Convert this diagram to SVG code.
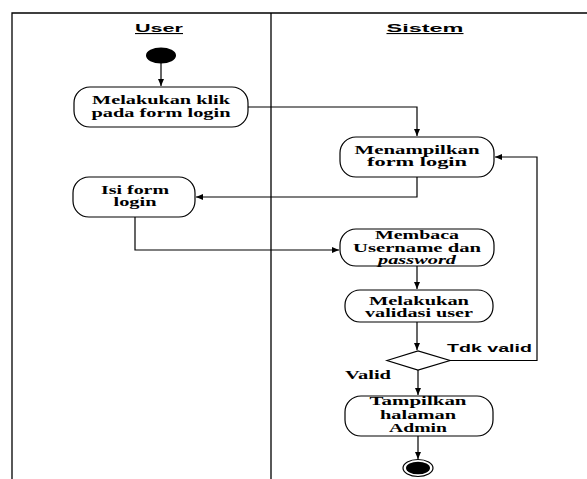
<svg xmlns="http://www.w3.org/2000/svg" width="587" height="479" viewBox="0 0 587 479">
<defs>
<style>
.lane{stroke:#000;stroke-width:1.3;fill:none}
.node{fill:#fff;stroke:#000;stroke-width:1.2}
.t{font-family:"Liberation Serif","Times New Roman",serif;font-weight:bold;font-size:12.5px;fill:#000;text-anchor:middle}
.ti{font-style:italic}
.h{font-family:"Liberation Sans",Arial,sans-serif;font-weight:bold;font-size:11px;fill:#000;text-anchor:middle;text-decoration:underline}
.lbl{font-family:"Liberation Sans",Arial,sans-serif;font-weight:bold;font-size:11.5px;fill:#000}
.lbls{font-family:"Liberation Serif","Times New Roman",serif;font-weight:bold;font-size:12px;fill:#000}
.c{fill:none;stroke:#000;stroke-width:1.2}
</style>
<marker id="ah" markerWidth="8" markerHeight="6" refX="7" refY="3" orient="auto" markerUnits="userSpaceOnUse">
<path d="M0,0 L7,3 L0,6 Z" fill="#000"/>
</marker>
</defs>
<rect width="587" height="479" fill="#fff"/>
<g id="lanes">
<path class="lane" d="M12,479 V13 H587 M271,13 V479"/>
<text class="h" x="159" y="32" textLength="48" lengthAdjust="spacingAndGlyphs">User</text>
<text class="h" x="425" y="32" textLength="77" lengthAdjust="spacingAndGlyphs">Sistem</text>
</g>
<g id="connectors">
<path class="c" d="M161,63 V86" marker-end="url(#ah)"/>
<path class="c" d="M248,107 H417 V136" marker-end="url(#ah)"/>
<path class="c" d="M417,177 V197 H196" marker-end="url(#ah)"/>
<path class="c" d="M135,217 V250 H339" marker-end="url(#ah)"/>
<path class="c" d="M417,266 V289" marker-end="url(#ah)"/>
<path class="c" d="M417,322 V350" marker-end="url(#ah)"/>
<path class="c" d="M450,360.5 H537 V157 H495" marker-end="url(#ah)"/>
<path class="c" d="M418,370 V395" marker-end="url(#ah)"/>
<path class="c" d="M418,436 V459" marker-end="url(#ah)"/>
<text class="lbl" x="447" y="352" textLength="85" lengthAdjust="spacingAndGlyphs">Tdk valid</text>
<text class="lbls" x="345" y="379" textLength="46" lengthAdjust="spacingAndGlyphs">Valid</text>
</g>
<g id="start">
<ellipse cx="161" cy="55.5" rx="15" ry="8" fill="#000"/>
</g>
<g id="n1">
<rect class="node" x="74" y="87" width="174" height="40" rx="16"/>
<text class="t" x="161" y="104" textLength="138" lengthAdjust="spacingAndGlyphs">Melakukan klik</text>
<text class="t" x="161" y="117" textLength="139" lengthAdjust="spacingAndGlyphs">pada form login</text>
</g>
<g id="n2">
<rect class="node" x="340" y="137" width="154" height="40" rx="16"/>
<text class="t" x="417" y="154" textLength="125" lengthAdjust="spacingAndGlyphs">Menampilkan</text>
<text class="t" x="417" y="166" textLength="100" lengthAdjust="spacingAndGlyphs">form login</text>
</g>
<g id="n3">
<rect class="node" x="73" y="177" width="122" height="40" rx="16"/>
<text class="t" x="135" y="194" textLength="68" lengthAdjust="spacingAndGlyphs">Isi form</text>
<text class="t" x="135" y="206" textLength="43" lengthAdjust="spacingAndGlyphs">login</text>
</g>
<g id="n4">
<rect class="node" x="340" y="229" width="154" height="37" rx="16"/>
<text class="t" x="417" y="239" textLength="84" lengthAdjust="spacingAndGlyphs">Membaca</text>
<text class="t" x="417" y="252" textLength="128" lengthAdjust="spacingAndGlyphs">Username dan</text>
<text class="t ti" x="417" y="264" textLength="78" lengthAdjust="spacingAndGlyphs">password</text>
</g>
<g id="n5">
<rect class="node" x="345" y="290" width="148" height="32" rx="15"/>
<text class="t" x="419" y="305" textLength="100" lengthAdjust="spacingAndGlyphs">Melakukan</text>
<text class="t" x="419" y="317" textLength="108" lengthAdjust="spacingAndGlyphs">validasi user</text>
</g>
<g id="decision">
<path class="node" d="M387,360.5 L418,351 L450,360.5 L418,370 Z"/>
</g>
<g id="n6">
<rect class="node" x="345" y="396" width="148" height="40" rx="16"/>
<text class="t" x="418" y="405" textLength="97" lengthAdjust="spacingAndGlyphs">Tampilkan</text>
<text class="t" x="418" y="419" textLength="76" lengthAdjust="spacingAndGlyphs">halaman</text>
<text class="t" x="418" y="432" textLength="58" lengthAdjust="spacingAndGlyphs">Admin</text>
</g>
<g id="end">
<ellipse cx="418" cy="468" rx="15" ry="8.5" fill="#fff" stroke="#000" stroke-width="1.2"/>
<ellipse cx="418" cy="468" rx="12" ry="6.3" fill="#000"/>
</g>
</svg>
